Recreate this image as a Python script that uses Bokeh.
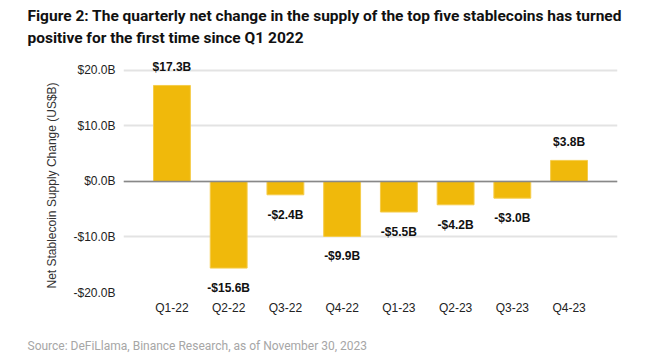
from bokeh.plotting import figure
from bokeh.models import (ColumnDataSource, FactorRange, Range1d, Span, LabelSet,
                          Title, CustomJSTickFormatter, FixedTicker)
from bokeh.core.properties import value
from bokeh.embed import file_html
from bokeh.resources import INLINE

quarters = ["Q1-22", "Q2-22", "Q3-22", "Q4-22", "Q1-23", "Q2-23", "Q3-23", "Q4-23"]
net_change = [17.3, -15.6, -2.4, -9.9, -5.5, -4.2, -3.0, 3.8]
y_ticks = [-20, -10, 0, 10, 20]

title_1 = "Figure 2: The quarterly net change in the supply of the top five stablecoins has turned"
title_2 = "positive for the first time since Q1 2022"
source_note = "Source: DeFiLlama, Binance Research, as of November 30, 2023"
y_label = "Net Stablecoin Supply Change (US$B)"

def fmt(v):
    return ("-" if v < 0 else "") + "$" + f"{abs(v):.1f}B"

labels = [fmt(v) for v in net_change]
src = ColumnDataSource(dict(q=quarters, v=net_change, lab=labels))
pos = ColumnDataSource(dict(q=[q for q, v in zip(quarters, net_change) if v >= 0],
                            v=[v for v in net_change if v >= 0],
                            lab=[l for l, v in zip(labels, net_change) if v >= 0]))
neg = ColumnDataSource(dict(q=[q for q, v in zip(quarters, net_change) if v < 0],
                            v=[v for v in net_change if v < 0],
                            lab=[l for l, v in zip(labels, net_change) if v < 0]))

p = figure(width=655, height=356, output_backend="svg", toolbar_location=None,
           x_range=FactorRange(*quarters, range_padding=0.354, range_padding_units="absolute"),
           y_range=Range1d(-20, 24.5),
           min_border_left=123, min_border_right=38, min_border_top=0, min_border_bottom=0)
p.outline_line_color = None
p.background_fill_color = "white"
p.border_fill_color = "white"

p.vbar(x="q", top="v", bottom=0, width=0.65, source=src,
       fill_color="#F0B90B", line_color="#F5CC4A", line_width=1)

p.add_layout(Span(location=0, dimension="width", line_color="#888888", line_width=1.5))

for src_, base, off in ((pos, "bottom", 11), (neg, "top", -13)):
    ls = LabelSet(x="q", y="v", text="lab", source=src_, text_align="center",
                  text_baseline=base, y_offset=off, text_font=value("Liberation Sans"),
                  text_font_style="bold", text_font_size="12px", text_color="#111111")
    p.add_layout(ls)

# axes
p.yaxis.ticker = FixedTicker(ticks=y_ticks)
p.yaxis.formatter = CustomJSTickFormatter(
    code="return (tick < 0 ? '-' : '') + '$' + Math.abs(tick).toFixed(1) + 'B';")
p.xaxis.axis_label = None
p.yaxis.axis_label = None
for ax in (p.xaxis, p.yaxis):
    ax.axis_line_color = None
    ax.major_tick_line_color = None
    ax.minor_tick_line_color = None
    ax.major_tick_out = 0
    ax.major_tick_in = 0
    ax.minor_tick_out = 0
    ax.major_label_text_font = "Liberation Sans"
    ax.major_label_text_font_size = "12px"
    ax.major_label_text_color = "#222222"
p.yaxis.major_label_standoff = 8
p.xaxis.major_label_standoff = 8

p.xgrid.grid_line_color = None
p.ygrid.grid_line_color = "#e3e3e3"
p.ygrid.grid_line_width = 2

# y-axis title as a side title, aligned like the reference (lower than frame centre)
p.add_layout(Title(text=y_label, align="left", offset=4, text_font="Liberation Sans",
                   text_font_style="normal", text_font_size="12px", text_color="#333333",
                   standoff=24), "left")

TF = "Roboto"
p.add_layout(Title(text=title_2, align="left", offset=-96, text_font=TF,
                   text_font_style="bold", text_font_size="15.5px", text_color="#111111",
                   standoff=-3), "above")
p.add_layout(Title(text=title_1, align="left", offset=-96, text_font=TF,
                   text_font_style="bold", text_font_size="15.5px", text_color="#111111",
                   standoff=8), "above")
# small spacer between the x tick labels and the source note
p.add_layout(Title(text=" ", text_font_size="8px", standoff=4), "below")
p.add_layout(Title(text=source_note, align="left", offset=-96, text_font="Roboto",
                   text_font_style="normal", text_font_size="12px", text_color="#a6a6a6",
                   standoff=8), "below")

open("out.html", "w").write(file_html(p, INLINE))
